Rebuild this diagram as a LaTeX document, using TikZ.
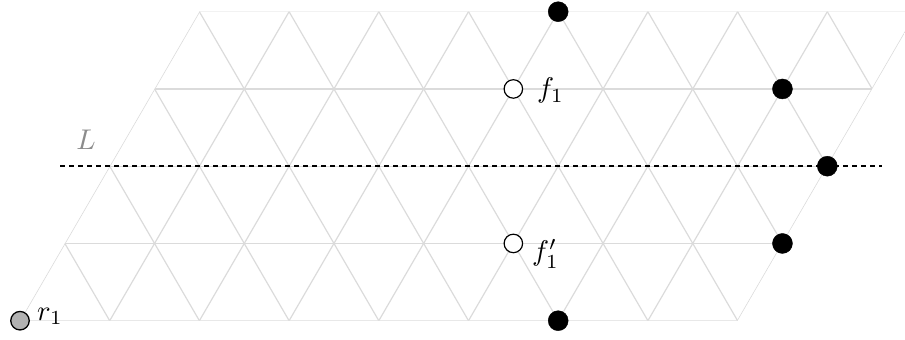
\documentclass[tikz,border=0pt]{standalone}
\begin{document}
\begin{tikzpicture}[x=1pt,y=1pt,
  gridline/.style={draw=black!14, line width=1.2pt},
  blackdot/.style={circle, fill=black, draw=black, minimum size=20pt, inner sep=0pt},
  whitedot/.style={circle, fill=white, draw=black, line width=1.2pt, minimum size=18.5pt, inner sep=0pt},
  greydot/.style={circle, fill=black!30, draw=black, line width=1.3pt, minimum size=18.5pt, inner sep=0pt},
  lab/.style={inner sep=0pt},
  dashline/.style={draw=black, line width=1.8pt, dash pattern=on 5pt off 4pt}]
\useasboundingbox (0,0) rectangle (905,340);
\begin{scope}[shift={(20pt,19.3pt)}, x={(89.7pt,0pt)}, y={(44.85pt,77.25pt)}]
  \begin{scope}
    \clip (0,0) -- (8,0) -- (8,4) -- (0,4) -- cycle;
    \foreach \r in {0,...,4} { \draw[gridline] (0,\r) -- (8,\r); }
    \foreach \k in {0,...,8} { \draw[gridline] (\k,0) -- (\k,4); }
    \foreach \c in {1,...,11} { \draw[gridline] (\c,0) -- (\c-4,4); }
  \end{scope}
  \node[greydot] (r1) at (0,0) {};
  \node[whitedot] (f1) at (4,3) {};
  \node[whitedot] (f1p) at (5,1) {};
  \node[blackdot] (b1) at (4,4) {};
  \node[blackdot] (b2) at (6,0) {};
  \node[blackdot] (b3) at (7,3) {};
  \node[blackdot] (b4) at (8,1) {};
\end{scope}
\coordinate (La) at (60,173.8);
\coordinate (Lb) at (882,173.8);
\draw[dashline] (La) -- (Lb);
\node[blackdot] (b5) at (827.3,173.8) {};
\node[lab, text=black!45] (Ltext) at (86,200) {\scalebox{2.85}{$L$}};
\node[lab, anchor=base west] (r1t) at (37,19.3) {\scalebox{2.85}{$r_1$}};
\node[lab, anchor=base west] (f1t) at (537,242) {\scalebox{2.85}{$f_1$}};
\node[lab, anchor=base west] (f1pt) at (532,79) {\scalebox{2.85}{$f'_1$}};
\end{tikzpicture}
\end{document}
